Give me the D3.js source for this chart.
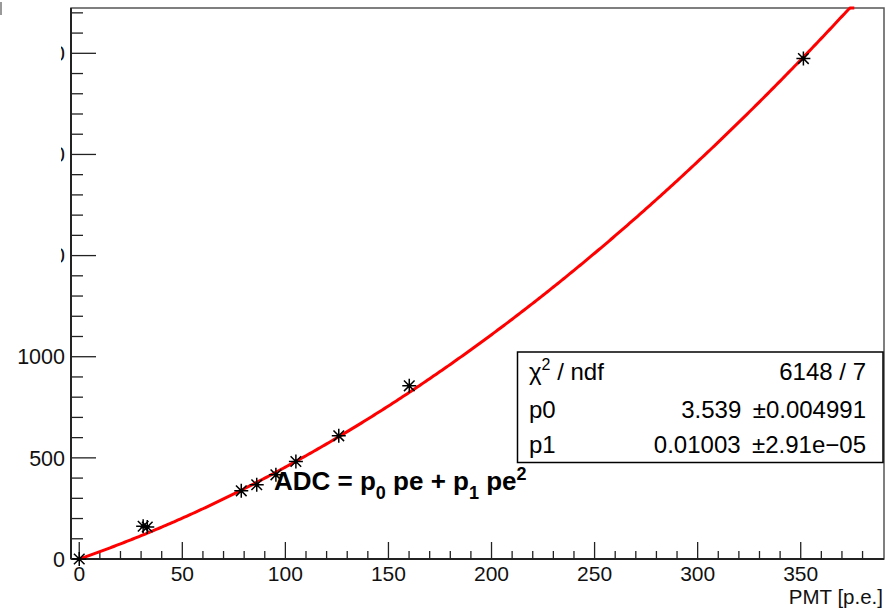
<!DOCTYPE html>
<html>
<head>
<meta charset="utf-8">
<script src="https://cdn.jsdelivr.net/npm/d3@7"></script>
<style>
    body { margin: 0; background: #fff; }
    text { font-family: "Liberation Sans", Arial, Helvetica, sans-serif; }
</style>
</head>
<body>
<div class="chart"></div>
<script>
// measured points (PMT p.e. vs ADC)
let pe = [0, 31, 33, 78.6, 86.1, 95.4, 105.1, 125.9, 160.1, 351.3]
let adc = [0, 162, 158, 337, 367, 416, 482, 609, 856, 2474]

// fit parameters
let p0 = 3.539
let p1 = 0.01003

let xTicks = [0, 50, 100, 150, 200, 250, 300, 350]
let yTicks = [0, 500, 1000, 1500, 2000, 2500]

let statsRows = [
    ["χ2 / ndf", "6148 / 7"],
    ["p0", "3.539 \u2009±0.004991"],
    ["p1", "0.01003 \u2009±2.91e−05"]
]

let width = 886
let height = 610
let padL = 71, padR = 884, padT = 8, padB = 559

let svg = d3.select(".chart")
    .append("svg")
    .attr("width", width)
    .attr("height", height)

let x = d3.scaleLinear().domain([-4, 390.4]).range([padL, padR])
let y = d3.scaleLinear().domain([0, 2724]).range([padB, padT])

// frame
svg.append("rect")
    .attr("x", padL).attr("y", padT)
    .attr("width", padR - padL).attr("height", padB - padT)
    .attr("fill", "none")
    .attr("stroke", "#555")
    .style("stroke-width", "1.5px")

// ticks, drawn inward
let xMinor = d3.range(0, 390, 10)
svg.selectAll(".xt")
    .data(xMinor)
    .enter()
    .append("line")
    .attr("x1", d => x(d)).attr("x2", d => x(d))
    .attr("y1", padB)
    .attr("y2", d => padB - (d % 50 === 0 ? 17 : 8))
    .attr("stroke", "#222")
    .style("stroke-width", "1.3px")

let yMinor = d3.range(0, 2724, 100)
svg.selectAll(".yt")
    .data(yMinor)
    .enter()
    .append("line")
    .attr("y1", d => y(d)).attr("y2", d => y(d))
    .attr("x1", padL)
    .attr("x2", d => padL + (d % 500 === 0 ? 25 : 12))
    .attr("stroke", "#222")
    .style("stroke-width", "1.3px")

// axis lines
svg.append("line")
    .attr("x1", padL).attr("x2", padR).attr("y1", padB).attr("y2", padB)
    .attr("stroke", "#222").style("stroke-width", "2px")
svg.append("line")
    .attr("x1", padL).attr("x2", padL).attr("y1", padT).attr("y2", padB)
    .attr("stroke", "#222").style("stroke-width", "2px")

// tick labels
svg.selectAll(".xl")
    .data(xTicks)
    .enter()
    .append("text")
    .attr("x", d => x(d))
    .attr("y", 581)
    .attr("text-anchor", "middle")
    .style("font-size", "21px")
    .attr("fill", "#111")
    .text(d => d)

svg.selectAll(".yl")
    .data(yTicks)
    .enter()
    .append("text")
    .attr("x", 65)
    .attr("y", d => y(d))
    .attr("dy", "0.36em")
    .attr("text-anchor", "end")
    .style("font-size", "21.5px")
    .attr("fill", "#111")
    .text(d => d)

// upper labels are hidden behind a pad at the left edge
svg.append("rect")
    .attr("x", 0).attr("y", 0).attr("width", 61).attr("height", 300)
    .attr("fill", "#fff")
svg.append("rect")
    .attr("x", 0).attr("y", 2).attr("width", 2).attr("height", 13)
    .attr("fill", "#999")

svg.append("text")
    .attr("x", 883)
    .attr("y", 604)
    .attr("text-anchor", "end")
    .style("font-size", "20.5px")
    .attr("fill", "#111")
    .text("PMT [p.e.]")

// fit curve, clipped at the frame top
let yMax = y.domain()[1]
let curve = d3.range(0, 377, 1).map(v => [v, Math.min(p0 * v + p1 * v * v, yMax)])
svg.append("path")
    .datum(curve)
    .attr("d", d3.line().x(d => x(d[0])).y(d => y(d[1])))
    .attr("fill", "none")
    .attr("stroke", "#ff0000")
    .style("stroke-width", "3px")

// star markers (+ and x)
let r = 7, rd = 5.3
svg.selectAll(".pt")
    .data(pe.map((v, i) => [v, adc[i]]))
    .enter()
    .append("path")
    .attr("transform", d => "translate(" + x(d[0]) + "," + y(d[1]) + ")")
    .attr("d", "M" + -r + ",0H" + r + "M0," + -r + "V" + r +
        "M" + -rd + "," + -rd + "L" + rd + "," + rd +
        "M" + -rd + "," + rd + "L" + rd + "," + -rd)
    .attr("stroke", "#000")
    .attr("fill", "none")
    .style("stroke-width", "1.5px")
svg.selectAll(".dot")
    .data(pe.map((v, i) => [v, adc[i]]))
    .enter()
    .append("circle")
    .attr("cx", d => x(d[0])).attr("cy", d => y(d[1]))
    .attr("r", 2)
    .attr("fill", "#000")

// fit formula
let f = svg.append("text")
    .attr("x", 274)
    .attr("y", 490)
    .style("font-size", "26px")
    .style("font-weight", "bold")
    .attr("fill", "#000")
f.append("tspan").text("ADC = p")
f.append("tspan").attr("dy", 9).style("font-size", "18px").text("0")
f.append("tspan").attr("dy", -9).text(" pe + p")
f.append("tspan").attr("dy", 9).style("font-size", "18px").text("1")
f.append("tspan").attr("dy", -9).text(" pe")
f.append("tspan").attr("dy", -10).style("font-size", "18px").text("2")

// stats box
svg.append("rect")
    .attr("x", 517.5).attr("y", 352)
    .attr("width", 365.5).attr("height", 110.5)
    .attr("fill", "#fff")
    .attr("stroke", "#000")
    .style("stroke-width", "1.5px")

let rowY = [380, 418, 453]
statsRows.forEach(function (row, i) {
    let t = svg.append("text")
        .attr("x", 529)
        .attr("y", rowY[i])
        .style("font-size", "24px")
        .attr("fill", "#000")
    if (i === 0) {
        t.append("tspan").text("χ")
        t.append("tspan").attr("dy", -10).style("font-size", "16px").text("2")
        t.append("tspan").attr("dy", 10).text(" / ndf")
    } else {
        t.text(row[0])
    }
    svg.append("text")
        .attr("x", 866)
        .attr("y", rowY[i])
        .attr("text-anchor", "end")
        .style("font-size", "24px")
        .attr("fill", "#000")
        .text(row[1])
})
</script>
</body>
</html>
